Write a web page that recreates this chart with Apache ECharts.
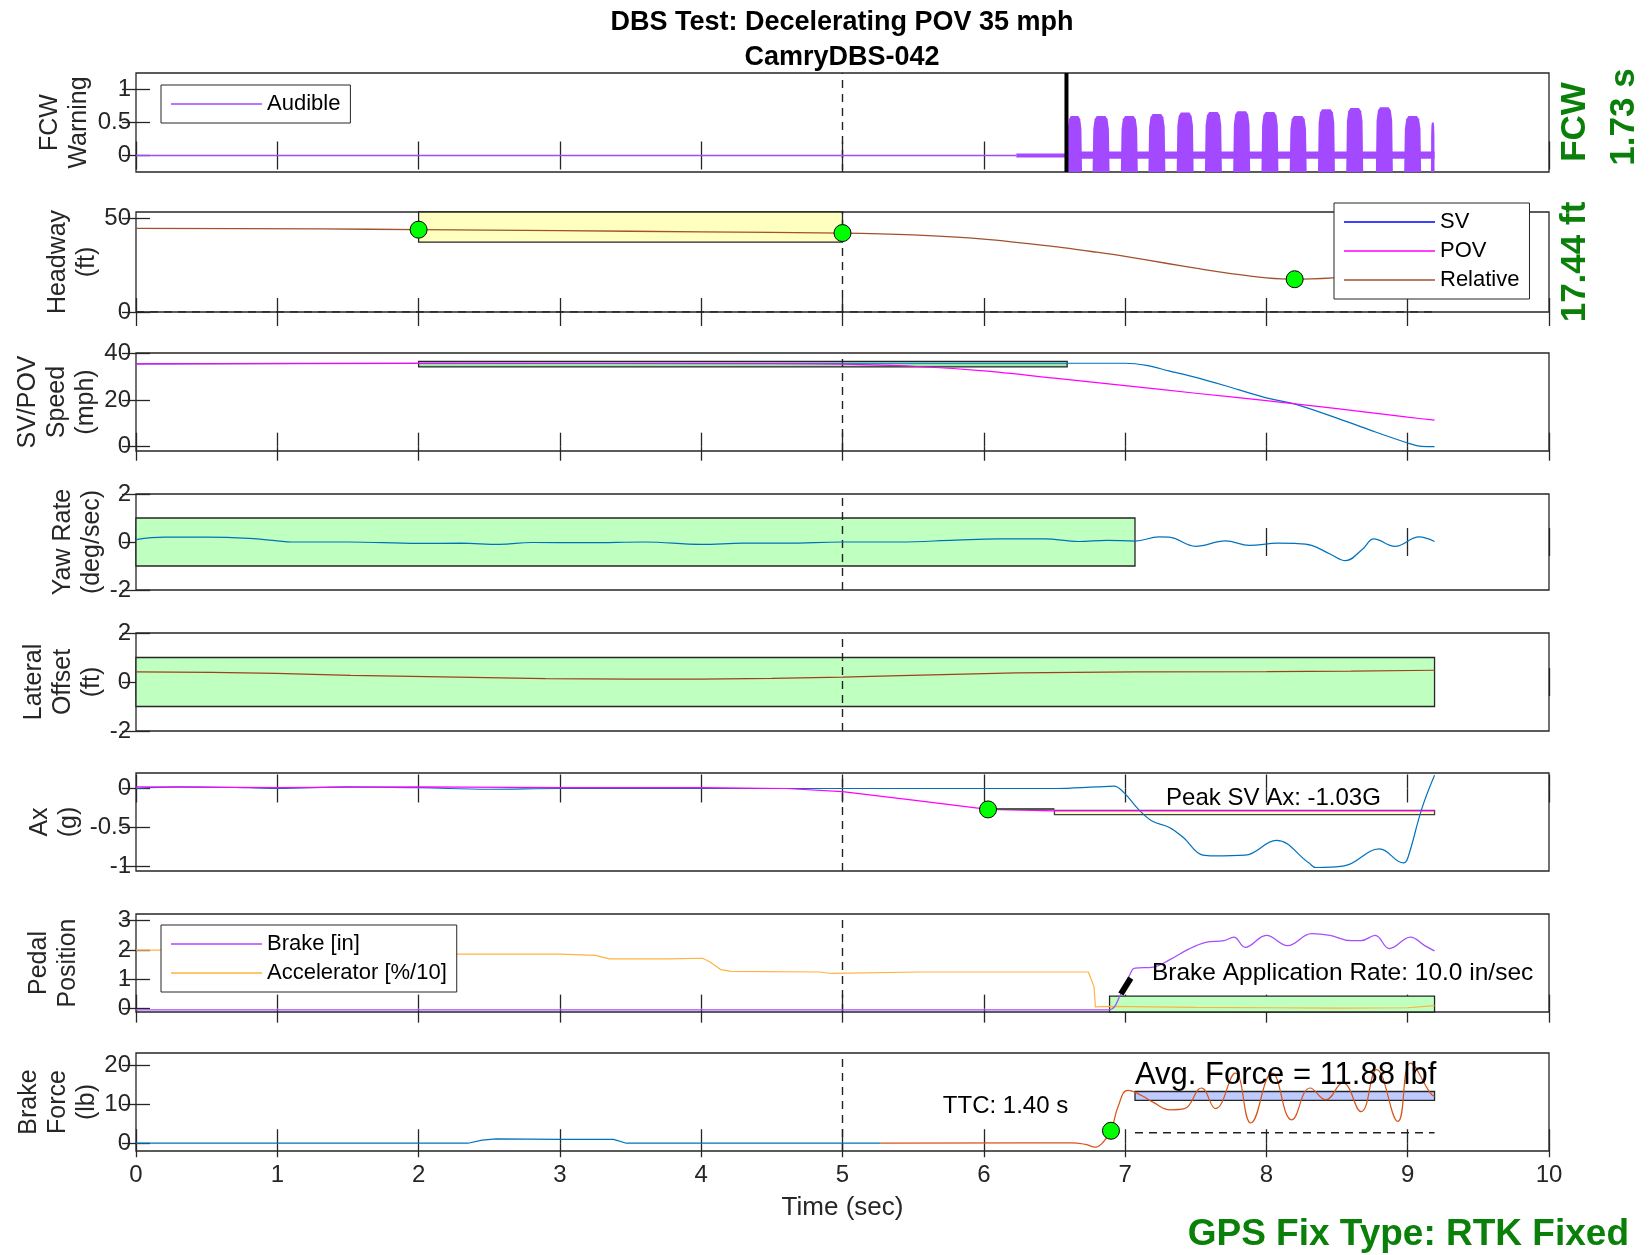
<!DOCTYPE html>
<html>
<head>
<meta charset="utf-8">
<title>DBS Test: Decelerating POV 35 mph</title>
<script src="https://cdn.jsdelivr.net/npm/echarts@6/dist/echarts.min.js"></script>
<style>
html, body { margin: 0; padding: 0; background: #fff; }
#main_echart { width: 1651px; height: 1255px; }
</style>
</head>
<body>
<div id="main_echart"></div>
<script>
// values, time in seconds
var fcwLineT = [0, 6.23];
var fcwLineV = [0, 0];
var fcwNoise = [6.23, 6.585, -0.03, 0.03];
var fcwBand = [6.585, 9.19, -0.05, 0.06];
var fcwOnset = 6.585;
var burstStart = [6.59, 6.77, 6.97, 7.165, 7.365, 7.565, 7.765, 7.965, 8.165, 8.365, 8.565, 8.775, 8.975, 9.165];
var burstEnd = [6.695, 6.89, 7.09, 7.285, 7.485, 7.685, 7.885, 8.085, 8.285, 8.485, 8.685, 8.895, 9.095, 9.19];
var burstTop = [0.60, 0.60, 0.60, 0.63, 0.65, 0.66, 0.67, 0.66, 0.60, 0.70, 0.72, 0.73, 0.60, 0.50];

var relT = [0, 1.3, 2.0, 3.0, 4.0, 5.0, 5.5, 6.0, 6.5, 6.8, 7.0, 7.3, 7.5, 7.75, 8.0, 8.2, 8.47, 8.75, 9.0, 9.19];
var relV = [44.5, 44.2, 43.8, 43.3, 42.6, 42.0, 41.0, 38.8, 34.8, 31.8, 29.6, 25.8, 23.3, 20.4, 18.2, 17.44, 18.2, 20.0, 22.8, 25.5];
var headZeroT = [0, 9.19];
var headZeroV = [0, 0];
var headBox = [2.0, 5.0, 37.2, 53.2];
var headDotT = [2.0, 5.0, 8.2];
var headDotV = [43.8, 42.0, 17.44];

var svT = [0, 2, 5, 7.0, 7.15, 7.31, 7.5, 7.71, 7.98, 8.22, 8.5, 8.75, 9.0, 9.1, 9.19];
var svV = [35.6, 35.9, 35.9, 35.9, 35.0, 32.6, 29.8, 26.2, 21.3, 18.0, 12.3, 6.8, 1.6, 0.1, 0.0];
var povT = [0, 2, 4.5, 5.0, 5.5, 6.0, 6.5, 7.0, 7.5, 8.0, 8.5, 9.0, 9.19];
var povV = [35.6, 35.8, 35.7, 35.5, 34.6, 32.6, 29.5, 26.3, 23.0, 19.8, 16.4, 12.7, 11.4];
var speedBox = [2.0, 6.59, 34.3, 36.7];

var yawT = [0, 0.2, 0.5, 0.8, 1.0, 1.1, 1.5, 2.0, 2.3, 2.57, 2.8, 3.2, 3.6, 4.0, 4.3, 4.6, 5.0, 5.4, 5.8, 6.1, 6.43, 6.67, 6.87, 7.07, 7.24, 7.31, 7.5, 7.71, 7.88, 8.08, 8.2, 8.32, 8.45, 8.56, 8.68, 8.76, 8.91, 9.08, 9.19];
var yawV = [0.1, 0.2, 0.2, 0.15, 0.05, 0.0, 0.0, -0.06, -0.05, -0.1, -0.02, -0.03, 0.0, -0.1, -0.05, -0.05, 0.0, 0.0, 0.08, 0.13, 0.13, 0.02, 0.07, 0.04, 0.21, 0.2, -0.18, 0.05, -0.14, -0.05, -0.06, -0.14, -0.5, -0.78, -0.3, 0.13, -0.18, 0.21, 0.02];
var yawBox = [0, 7.07, -1, 1];

var latT = [0, 0.54, 0.99, 1.52, 2.27, 2.9, 3.5, 4.0, 4.5, 5.0, 5.41, 6.23, 7.07, 8.0, 8.6, 9.19];
var latV = [0.41, 0.39, 0.35, 0.27, 0.2, 0.14, 0.12, 0.12, 0.15, 0.2, 0.26, 0.37, 0.41, 0.42, 0.44, 0.48];
var latBox = [0, 9.19, -1, 1];

var axSvT = [0, 0.3, 0.8, 1.0, 1.5, 2.0, 2.5, 3.0, 3.5, 4.0, 4.5, 5.0, 5.5, 6.0, 6.5, 6.8, 6.92, 6.99, 7.09, 7.19, 7.31, 7.41, 7.55, 7.63, 7.85, 8.07, 8.3, 8.35, 8.55, 8.8, 8.97, 9.0, 9.1, 9.19];
var axSvV = [0.0, 0.02, 0.01, 0.0, 0.02, 0.01, -0.01, 0.0, 0.0, 0.0, 0.0, 0.0, 0.0, 0.0, 0.0, 0.02, 0.03, -0.05, -0.26, -0.42, -0.5, -0.63, -0.86, -0.87, -0.86, -0.67, -0.96, -1.02, -1.0, -0.78, -0.96, -0.9, -0.26, 0.17];
var axPovT = [0, 1, 2, 3, 4, 4.6, 5.0, 5.5, 6.03, 6.5, 9.19];
var axPovV = [0.02, 0.01, 0.02, 0.01, 0.01, 0.0, -0.04, -0.15, -0.27, -0.29, -0.29];
var axBox = [6.5, 9.19, -0.338, -0.282];
var axLinkT = [6.03, 6.5];
var axLinkV = [-0.265, -0.265];
var axDotT = [6.03];
var axDotV = [-0.27];

var brkT = [0, 6.88, 6.97, 7.05, 7.07, 7.2, 7.32, 7.45, 7.57, 7.7, 7.77, 7.85, 8.0, 8.15, 8.32, 8.45, 8.6, 8.67, 8.77, 8.87, 9.02, 9.12, 9.19];
var brkV = [-0.04, -0.04, 0.5, 1.32, 1.38, 1.42, 1.68, 2.03, 2.26, 2.32, 2.44, 2.09, 2.5, 2.15, 2.56, 2.5, 2.32, 2.32, 2.5, 2.05, 2.44, 2.15, 1.97];
var accT = [0, 0.2, 1.0, 2.0, 3.0, 3.25, 3.35, 3.76, 4.01, 4.06, 4.14, 4.21, 4.84, 4.92, 5.55, 6.74, 6.78, 6.79, 6.89, 7.5, 8.0, 8.5, 9.0, 9.19];
var accV = [2.0, 2.0, 1.95, 1.86, 1.86, 1.82, 1.70, 1.70, 1.72, 1.6, 1.33, 1.27, 1.25, 1.2, 1.25, 1.25, 0.75, 0.06, 0.08, 0.04, 0.03, 0.02, 0.03, 0.1];
var pedalBox = [6.89, 9.19, -0.115, 0.43];
var rateT = [6.97, 7.04];
var rateV = [0.5, 1.04];

var bfBlueT = [0, 2.35, 2.45, 2.55, 3.0, 3.38, 3.47, 5.27];
var bfBlueV = [0, 0, 0.8, 1.1, 1.0, 1.0, 0, 0];
var bfOrT = [5.27, 6.62, 6.72, 6.79, 6.84, 6.9, 6.95, 7.02, 7.12, 7.2, 7.32, 7.42, 7.54, 7.64, 7.78, 7.89, 8.04, 8.18, 8.31, 8.42, 8.54, 8.67, 8.78, 8.93, 9.02, 9.16, 9.19];
var bfOrV = [0, 0.1, -0.3, -1.0, 0.1, 3.2, 9.4, 13.6, 12.2, 10.5, 8.6, 8.9, 14.2, 8.9, 18.0, 5.2, 18.0, 6.0, 14.2, 11.2, 15.5, 8.1, 18.9, 5.6, 20.6, 12.9, 12.0];
var bfBox = [7.07, 9.19, 11.0, 13.3];
var bfDashT = [7.07, 9.19];
var bfDashV = [2.7, 2.7];
var bfDotT = [6.9];
var bfDotV = [3.2];

var markerT = 5;

var yMin = [-0.25, 0, -1.85, -2, -2, -1.065, -0.115, -2];
var yMax = [1.25, 53.2, 40.3, 2, 2, 0.2, 3.23, 23.2];
var yTicks = [[0, 0.5, 1], [0, 50], [0, 20, 40], [-2, 0, 2], [-2, 0, 2], [-1, -0.5, 0], [0, 1, 2, 3], [0, 10, 20]];
var yNames = ['FCW\nWarning', 'Headway\n(ft)', 'SV/POV\nSpeed\n(mph)', 'Yaw Rate\n(deg/sec)', 'Lateral\nOffset\n(ft)', 'Ax\n(g)', 'Pedal\nPosition', 'Brake\nForce\n(lb)'];

var noteGrid = [5, 6, 7, 7];
var noteT = [8.05, 7.19, 5.71, 7.07];
var noteV = [-0.13, 1.2, 9.5, 17.3];
var noteText = ['Peak SV Ax: -1.03G', 'Brake Application Rate: 10.0 in/sec', 'TTC: 1.40 s', 'Avg. Force = 11.88 lbf'];

// layout
var panelTop = [73, 212, 353, 494, 633, 773, 914, 1053];
var panelHeight = [99, 100, 98, 96, 98, 98, 98, 98];
var nameGap = [42, 34, 35, 29, 29, 52, 53, 34];
var noteSize = [24, 24.5, 24, 31];
var axisColor = '#262626';
var font = 'Liberation Sans, Arial, Helvetica, sans-serif';
var green = '#0a800a';
var dotGreen = '#00ff00';

function zip(ts, vs) {
    var out = [];
    for (var i = 0; i < ts.length; i++) out.push([ts[i], vs[i]]);
    return out;
}

function lineSeries(name, gi, ts, vs, color, width, smooth, dashed) {
    return {
        name: name, type: 'line', xAxisIndex: gi * 2, yAxisIndex: gi * 2,
        data: zip(ts, vs), symbol: 'none', smooth: smooth || false,
        lineStyle: {color: color, width: width, type: dashed ? [8, 6] : 'solid'},
        itemStyle: {color: color}, silent: true, z: 2
    };
}

function rectItem(api, fill, stroke) {
    var p0 = api.coord([api.value(0), api.value(3)]);
    var p1 = api.coord([api.value(1), api.value(2)]);
    return {
        type: 'rect',
        shape: {x: p0[0], y: p0[1], width: p1[0] - p0[0], height: p1[1] - p0[1]},
        style: stroke ? {fill: fill, stroke: stroke, lineWidth: 1.3} : {fill: fill}
    };
}

function boxSeries(gi, box, fill, stroke, z) {
    return {
        type: 'custom', xAxisIndex: gi * 2, yAxisIndex: gi * 2, z: z || 1, silent: true,
        data: [box], encode: {x: [0, 1], y: [2, 3]},
        renderItem: function (params, api) { return rectItem(api, fill, stroke); }
    };
}

function dotSeries(gi, ts, vs) {
    return {
        type: 'scatter', xAxisIndex: gi * 2, yAxisIndex: gi * 2, z: 5, silent: true,
        data: zip(ts, vs), symbolSize: 17,
        itemStyle: {color: dotGreen, borderColor: '#000', borderWidth: 1, opacity: 1}
    };
}

var grids = [], xAxes = [], yAxes = [], series = [];
for (var i = 0; i < 8; i++) {
    grids.push({
        left: 136, right: 102, top: panelTop[i], height: panelHeight[i],
        show: true, borderColor: axisColor, borderWidth: 1.3, backgroundColor: 'transparent'
    });
    var tickStyle = {show: true, inside: true, length: 14, lineStyle: {color: axisColor, width: 1.3}};
    xAxes.push({
        type: 'value', gridIndex: i, position: 'bottom', min: 0, max: 10, interval: 1,
        axisLine: {show: false}, splitLine: {show: false}, axisTick: tickStyle,
        axisLabel: {show: i === 7, margin: 12, fontSize: 24, color: axisColor, fontFamily: font},
        name: i === 7 ? 'Time (sec)' : '', nameLocation: 'middle', nameGap: 44, nameMoveOverlap: false,
        nameTextStyle: {fontSize: 26, color: axisColor, fontFamily: font}
    });
    xAxes.push({
        type: 'value', gridIndex: i, position: 'top', min: 0, max: 10, interval: 1,
        axisLine: {show: false}, splitLine: {show: false}, axisTick: tickStyle,
        axisLabel: {show: false}
    });
    yAxes.push({
        type: 'value', gridIndex: i, position: 'left', min: yMin[i], max: yMax[i],
        axisLine: {show: false}, splitLine: {show: false},
        axisTick: {show: true, inside: true, length: 14, customValues: yTicks[i], lineStyle: {color: axisColor, width: 1.3}},
        axisLabel: {show: true, customValues: yTicks[i], margin: 5, fontSize: 24, color: axisColor, fontFamily: font,
            formatter: function (v) { return String(v); }},
        name: yNames[i], nameLocation: 'middle', nameRotate: 90, nameGap: nameGap[i], nameMoveOverlap: false,
        nameTextStyle: {fontSize: 25, lineHeight: 29, color: axisColor, fontFamily: font}
    });
    yAxes.push({
        type: 'value', gridIndex: i, position: 'right', min: yMin[i], max: yMax[i],
        axisLine: {show: false}, splitLine: {show: false},
        axisTick: {show: true, inside: true, length: 14, customValues: yTicks[i], lineStyle: {color: axisColor, width: 1.3}},
        axisLabel: {show: false}
    });
    // dashed marker at t = 5 s
    series.push(lineSeries('', i, [markerT, markerT], [yMin[i], yMax[i]], '#222', 1.4, false, true));
}

// FCW warning
var audible = '#a349ff';
series.push(lineSeries('Audible', 0, fcwLineT, fcwLineV, audible, 1.3));
series.push(boxSeries(0, fcwNoise, audible, null, 2));
series.push(boxSeries(0, fcwBand, audible, null, 2));
var bursts = [];
for (var b = 0; b < burstStart.length; b++) bursts.push([burstStart[b], burstEnd[b], burstTop[b]]);
series.push({
    type: 'custom', xAxisIndex: 0, yAxisIndex: 0, z: 2, silent: true,
    data: bursts, encode: {x: [0, 1], y: 2},
    renderItem: function (params, api) {
        var s = api.value(0), e = api.value(1), top = api.value(2);
        var w = e - s;
        var pts = [
            [s, yMin[0]], [s + 0.04 * w, top - 0.2], [s + 0.12 * w, top - 0.05], [s + 0.25 * w, top],
            [e - 0.25 * w, top], [e - 0.12 * w, top - 0.05], [e - 0.04 * w, top - 0.2], [e, yMin[0]]
        ];
        return {type: 'polygon', shape: {points: pts.map(function (p) { return api.coord(p); })}, style: {fill: audible}};
    }
});
series.push(lineSeries('', 0, [fcwOnset, fcwOnset], [yMin[0], yMax[0]], '#000', 4));

// headway
series.push(boxSeries(1, headBox, '#ffffbf', '#262626'));
series.push(lineSeries('SV', 1, [], [], '#0000ff', 1.3));
series.push(lineSeries('POV', 1, [], [], '#ff00ff', 1.3));
series.push(lineSeries('Relative', 1, relT, relV, '#a0522d', 1.3, 0.3));
series.push(lineSeries('', 1, headZeroT, headZeroV, '#222', 1.4, false, true));
series.push(dotSeries(1, headDotT, headDotV));

// speeds
series.push(boxSeries(2, speedBox, '#9fe6b0', '#262626'));
series.push(lineSeries('SV speed', 2, svT, svV, '#0072bd', 1.2, 0.3));
series.push(lineSeries('POV speed', 2, povT, povV, '#ff00ff', 1.2, 0.3));

// yaw rate
series.push(boxSeries(3, yawBox, '#bfffbf', '#262626'));
series.push(lineSeries('Yaw', 3, yawT, yawV, '#0072bd', 1.2, 0.4));

// lateral offset
series.push(boxSeries(4, latBox, '#bfffbf', '#262626'));
series.push(lineSeries('Lateral', 4, latT, latV, '#a0401f', 1.2));

// longitudinal acceleration
series.push(boxSeries(5, axBox, '#ffffbf', '#404040'));
series.push(lineSeries('SV Ax', 5, axSvT, axSvV, '#0072bd', 1.2, 0.4));
series.push(lineSeries('POV Ax', 5, axPovT, axPovV, '#ff00ff', 1.2));
series.push(lineSeries('', 5, axLinkT, axLinkV, '#555', 2));
series.push(dotSeries(5, axDotT, axDotV));

// pedal position
series.push(boxSeries(6, pedalBox, '#bfffbf', '#262626'));
series.push(lineSeries('Accelerator [%/10]', 6, accT, accV, '#ffb340', 1.2));
series.push(lineSeries('Brake [in]', 6, brkT, brkV, '#a64dff', 1.3, 0.4));
series.push(lineSeries('', 6, rateT, rateV, '#000', 6));

// brake force
series.push(boxSeries(7, bfBox, '#bfcbff', '#262626'));
series.push(lineSeries('Force pre', 7, bfBlueT, bfBlueV, '#0072bd', 1.2));
series.push(lineSeries('Force', 7, bfOrT, bfOrV, '#d95319', 1.2, 0.45));
series.push(lineSeries('', 7, bfDashT, bfDashV, '#222', 1.4, false, true));
series.push(dotSeries(7, bfDotT, bfDotV));

// text notes inside the panels
for (var n = 0; n < noteText.length; n++) {
    (function (k) {
        series.push({
            type: 'custom', xAxisIndex: noteGrid[k] * 2, yAxisIndex: noteGrid[k] * 2, z: 6, silent: true,
            data: [[noteT[k], noteV[k]]], encode: {x: 0, y: 1},
            renderItem: function (params, api) {
                var p = api.coord([api.value(0), api.value(1)]);
                return {
                    type: 'text', x: p[0], y: p[1],
                    style: {
                        text: noteText[k], fill: '#000',
                        font: noteSize[k] + 'px ' + font,
                        align: k === 0 ? 'center' : 'left', verticalAlign: 'middle'
                    }
                };
            }
        });
    })(n);
}

var legendBase = {
    icon: 'rect', itemWidth: 91, itemHeight: 1.5, itemGap: 7, padding: [8, 10, 8, 10],
    borderColor: axisColor, borderWidth: 1, backgroundColor: '#fff', borderRadius: 0,
    selectedMode: false, orient: 'vertical',
    textStyle: {fontSize: 22, lineHeight: 22, color: '#000', fontFamily: font}
};

var option = {
    animation: false,
    backgroundColor: '#fff',
    textStyle: {fontFamily: font},
    title: {
        text: 'DBS Test: Decelerating POV 35 mph\nCamryDBS-042',
        left: 842, top: 5, textAlign: 'center', padding: 0,
        textStyle: {fontSize: 27, fontWeight: 'bold', lineHeight: 35, color: '#000', fontFamily: font}
    },
    legend: [
        echarts.util.extend({data: ['Audible'], left: 161, top: 85}, legendBase),
        echarts.util.extend({data: ['SV', 'POV', 'Relative'], left: 1334, top: 203}, legendBase),
        echarts.util.extend({data: ['Brake [in]', 'Accelerator [%/10]'], left: 161, top: 925, padding: [8, 10, 5, 10]}, legendBase)
    ],
    grid: grids,
    xAxis: xAxes,
    yAxis: yAxes,
    series: series,
    graphic: [
        {type: 'text', x: 1575, y: 122, rotation: Math.PI / 2, z: 10,
            style: {text: 'FCW', font: 'bold 35px ' + font, fill: green, align: 'center', verticalAlign: 'middle'}},
        {type: 'text', x: 1624, y: 117, rotation: Math.PI / 2, z: 10,
            style: {text: '1.73 s', font: 'bold 35px ' + font, fill: green, align: 'center', verticalAlign: 'middle'}},
        {type: 'text', x: 1575, y: 262, rotation: Math.PI / 2, z: 10,
            style: {text: '17.44 ft', font: 'bold 35px ' + font, fill: green, align: 'center', verticalAlign: 'middle'}},
        {type: 'text', x: 1629, y: 1235, z: 10,
            style: {text: 'GPS Fix Type: RTK Fixed', font: 'bold 37px ' + font, fill: green, align: 'right', verticalAlign: 'middle'}}
    ]
};

var myChart = echarts.init(document.getElementById('main_echart'), null, {renderer: 'canvas'});
myChart.setOption(option);
</script>
</body>
</html>
